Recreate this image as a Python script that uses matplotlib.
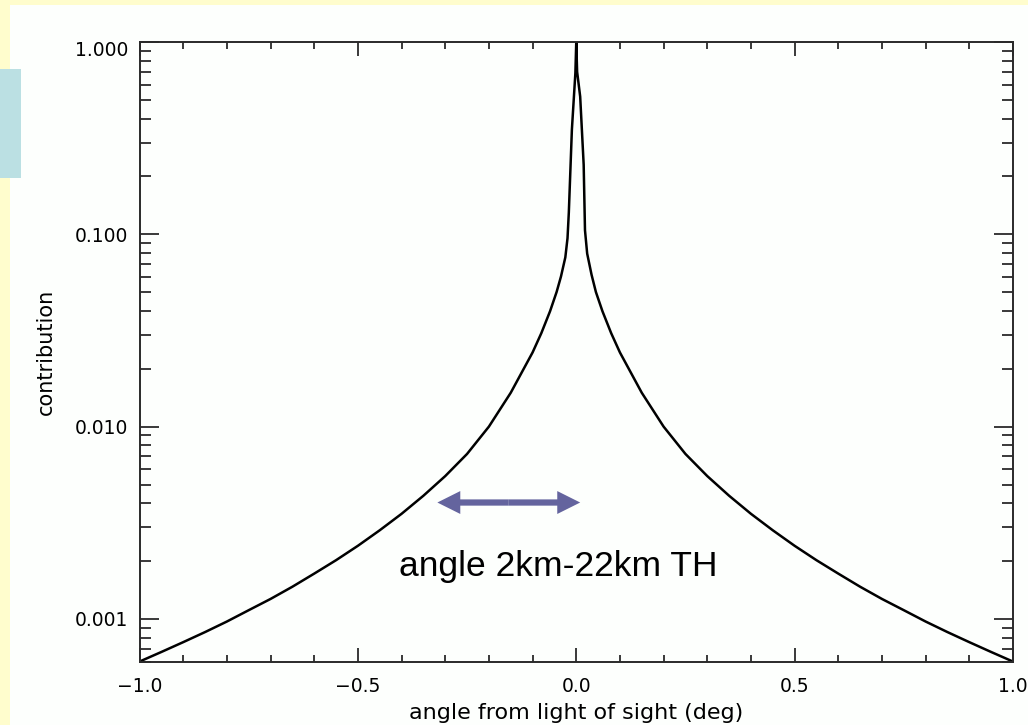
import matplotlib.pyplot as plt
import matplotlib.patches as mpatches
from matplotlib.ticker import FixedLocator, NullFormatter
import numpy as np

# contribution vs angle from line of sight
angle = [-1.00, -0.95, -0.90, -0.85, -0.80, -0.75, -0.70, -0.65, -0.60, -0.55,
         -0.50, -0.45, -0.40, -0.35, -0.30, -0.25, -0.20, -0.15, -0.10, -0.08,
         -0.06, -0.045, -0.035, -0.025, -0.020, -0.017, -0.010, -0.002,
         0.0,
         0.002, 0.009, 0.017, 0.020, 0.025, 0.035, 0.045, 0.06, 0.08, 0.10,
         0.15, 0.20, 0.25, 0.30, 0.35, 0.40, 0.45, 0.50, 0.55, 0.60,
         0.65, 0.70, 0.75, 0.80, 0.85, 0.90, 0.95, 1.00]
contribution = [0.000600, 0.000673, 0.000757, 0.000854, 0.000969, 0.00111, 0.00127, 0.00147, 0.00172, 0.00202,
                0.00240, 0.00289, 0.00352, 0.00437, 0.00553, 0.00721, 0.0100, 0.0150, 0.0243, 0.0306,
                0.0398, 0.0501, 0.0603, 0.0759, 0.0955, 0.13, 0.35, 0.69,
                1.0,
                0.70, 0.52, 0.23, 0.105, 0.0794, 0.0617, 0.0501, 0.0398, 0.0306, 0.0243,
                0.0150, 0.0100, 0.00721, 0.00553, 0.00437, 0.00352, 0.00289, 0.00240, 0.00202, 0.00172,
                0.00147, 0.00127, 0.00111, 0.000969, 0.000854, 0.000757, 0.000673, 0.000600]

y_ticks = [0.001, 0.01, 0.1, 1.0]
y_tick_labels = ['0.001', '0.010', '0.100', '1.000']
x_ticks = [-1.0, -0.5, 0.0, 0.5, 1.0]
x_tick_labels = ['\u22121.0', '\u22120.5', '0.0', '0.5', '1.0']

# arrow span and note
arrow_x = (-0.318, 0.009)
arrow_y = 0.00403
note = 'angle 2km-22km TH'

fig = plt.figure(figsize=(10.28, 7.25), dpi=100, facecolor='#FFFDCD')
# white slide area and the blue tab on the left edge
fig.patches.append(mpatches.Rectangle((10 / 1028, 0), 1, 720 / 725, transform=fig.transFigure,
                                      facecolor='#FDFFFD', edgecolor='none', zorder=-2))
fig.patches.append(mpatches.Rectangle((0, (725 - 178) / 725), 21 / 1028, 109 / 725,
                                      transform=fig.transFigure, facecolor='#BBE0E3',
                                      edgecolor='none', zorder=-1))

ax = fig.add_axes([139.5 / 1028, 63 / 725, 873.5 / 1028, 620 / 725])
ax.patch.set_visible(False)

ax.plot(angle, contribution, color='black', lw=1.8)

ax.set_yscale('log')
ax.set_xlim(-1, 1)
ax.set_ylim(0.000597, 1.0)

ax.yaxis.set_major_locator(FixedLocator(y_ticks))
ax.set_yticklabels(['0.001', '0.010', '0.100', ''])
minor = [m * 10.0 ** e for e in range(-4, 0) for m in range(2, 10)]
ax.yaxis.set_minor_locator(FixedLocator(minor))
ax.yaxis.set_minor_formatter(NullFormatter())
ax.set_xticks(x_ticks, x_tick_labels)
ax.set_xticks(np.arange(-1.0, 1.01, 0.1), minor=True)

spine_col = '#2a2a2a'
for s in ax.spines.values():
    s.set_color(spine_col)
    s.set_linewidth(1.4)

ax.tick_params(which='both', direction='in', top=True, right=True, color=spine_col,
               width=1.3, labelsize=13.5, labelcolor='black')
ax.tick_params(axis='y', which='major', length=13.5, pad=8)
ax.tick_params(axis='y', which='minor', length=7.8)
ax.tick_params(axis='x', which='major', length=9.8, pad=11)
ax.tick_params(axis='x', which='minor', length=5)

# the top label sits a little below the axis top, as in the original
ax.annotate(y_tick_labels[-1], xy=(0, 1.0), xycoords=('axes fraction', 'data'),
            xytext=(-8, -6), textcoords='offset points', ha='right', va='center',
            fontsize=13.5)

ax.set_xlabel('angle from light of sight (deg)', fontsize=16)
ax.set_ylabel('contribution', fontsize=15)
ax.xaxis.set_label_coords(0.5, -0.066)
ax.yaxis.set_label_coords(-0.096, 0.5)

# double-headed arrow drawn as two filled halves
mid = (arrow_x[0] + arrow_x[1]) / 2
style = 'simple,head_length=16.5,head_width=16.5,tail_width=4.5'
for end in arrow_x:
    ax.add_patch(mpatches.FancyArrowPatch((mid, arrow_y), (end, arrow_y), arrowstyle=style,
                                          mutation_scale=1, color='#64649E', lw=0,
                                          shrinkA=0, shrinkB=0))

ax.text(-0.041, 0.00187, note, ha='center', va='center', fontsize=25.5,
        family='Liberation Sans', color='black')

fig.savefig('out.png', dpi=100, facecolor=fig.get_facecolor())
